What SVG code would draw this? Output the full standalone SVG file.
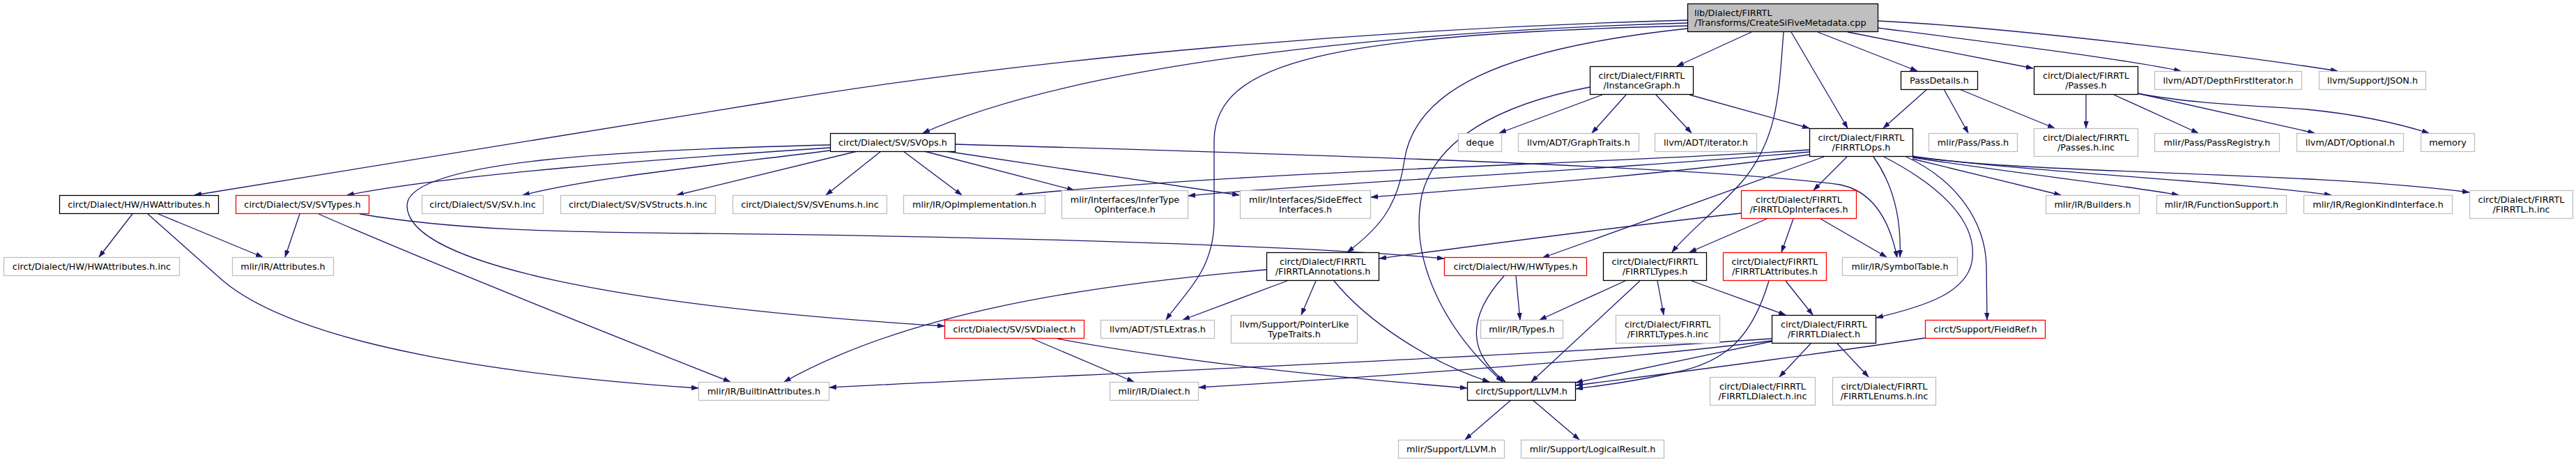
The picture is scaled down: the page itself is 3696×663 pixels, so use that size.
<svg xmlns="http://www.w3.org/2000/svg" width="3696" height="663" viewBox="0 0 3696 663">
<style>
text{font-family:"DejaVu Sans","Liberation Sans",sans-serif;font-size:12.8px;fill:#000;text-anchor:middle}
.node rect{fill:#fff;stroke-width:1.3}
.b rect{stroke:#000}
.g rect{stroke:#bfbfbf}
.r rect{stroke:#f00}
.root rect{fill:#bfbfbf;stroke:#000}
.root text{text-anchor:start}
#edges path{fill:none;stroke:#191970;stroke-width:1.3;marker-end:url(#arr)}
</style>
<defs>
<marker id="arr" viewBox="0 0 10 7" refX="10" refY="3.5" markerWidth="10" markerHeight="7" markerUnits="userSpaceOnUse" orient="auto">
<path d="M0,0 L10,3.5 L0,7 z" fill="#191970" stroke="#191970" stroke-width="0.5"/>
</marker>
</defs>
<rect width="3696" height="663" fill="#fff"/>
<g id="edges">
<path d="M2421,29 C2000,40 1500,80 1100,147 L279,280"/>
<path d="M2421,33 C2000,45 1550,90 1324,191"/>
<path d="M2421,37 C1900,50 1745,90 1742,200 L1742,320 C1740,390 1700,420 1673,459"/>
<path d="M2421,41 C2150,70 2030,130 2015,230 C2005,300 1975,330 1933,362"/>
<path d="M2513,46 L2406,95"/>
<path d="M2570,46 L2651,184"/>
<path d="M2559,46 C2552,140 2550,200 2500,260 C2460,305 2420,335 2399,362"/>
<path d="M2608,46 L2751,102"/>
<path d="M2651,46 C2700,56 2850,85 2917,98"/>
<path d="M2694,40 C2850,60 3050,85 3129,102"/>
<path d="M2694,30 C2900,40 3250,85 3354,102"/>
<path d="M2299,136 L2151,191"/>
<path d="M2333,136 L2284,191"/>
<path d="M2376,136 L2427,191"/>
<path d="M2424,136 L2596,184"/>
<path d="M2281,125 C2150,150 2060,200 2040,280 C2020,380 2080,480 2156,548"/>
<path d="M1191,212 C950,228 650,250 498,280"/>
<path d="M1191,216 C1000,240 850,255 750,280"/>
<path d="M1191,208 C900,215 584,230 584,295 C584,380 900,440 1355,468"/>
<path d="M1230,217 L971,280"/>
<path d="M1264,217 L1185,280"/>
<path d="M1296,217 L1380,280"/>
<path d="M1326,217 L1541,273"/>
<path d="M1357,217 L1778,280"/>
<path d="M1370,207 C1900,222 2450,240 2640,265 C2690,275 2712,320 2722,370"/>
<path d="M430,307 L409,369"/>
<path d="M457,307 C600,370 900,490 1048,548"/>
<path d="M516,307 C650,330 800,333 1000,335 C1500,340 1900,355 2072,371"/>
<path d="M190,307 L142,369"/>
<path d="M227,307 L377,369"/>
<path d="M212,307 L320,403 C400,470 600,530 1002,557"/>
<path d="M2596,215 C2300,235 1800,245 1457,280"/>
<path d="M2596,218 C2300,245 1900,262 1705,281"/>
<path d="M2596,222 C2400,250 2100,272 1967,283"/>
<path d="M2617,225 L2213,370"/>
<path d="M2650,225 L2602,273"/>
<path d="M2688,225 C2720,270 2728,320 2726,369"/>
<path d="M2703,225 C2790,270 2835,320 2830,370 C2826,420 2760,440 2692,456"/>
<path d="M2735,225 C2810,260 2848,320 2850,380 L2851,459"/>
<path d="M2744,228 L2957,280"/>
<path d="M2744,226 C2900,250 3050,266 3126,280"/>
<path d="M2744,225 C2950,250 3200,260 3345,280"/>
<path d="M2744,224 C2900,250 3300,245 3543,276"/>
<path d="M2765,128 L2702,184"/>
<path d="M2789,128 L2824,191"/>
<path d="M2811,128 L2948,184"/>
<path d="M2993,136 L2993,184"/>
<path d="M3033,136 L3154,191"/>
<path d="M3067,134 L3321,191"/>
<path d="M3067,134 C3150,150 3250,152 3310,157 C3390,165 3450,180 3485,191"/>
<path d="M2498,306 C2300,328 2100,355 1979,371"/>
<path d="M2535,314 L2424,362"/>
<path d="M2573,314 L2556,362"/>
<path d="M2612,314 L2707,369"/>
<path d="M2332,403 L2209,459"/>
<path d="M2353,403 L2197,548"/>
<path d="M2378,403 L2387,452"/>
<path d="M2427,403 L2562,452"/>
<path d="M2562,403 L2601,452"/>
<path d="M2538,403 C2515,480 2480,520 2400,535 C2340,548 2300,553 2261,558"/>
<path d="M2175,396 L2181,459"/>
<path d="M2158,396 C2100,460 2110,510 2160,548"/>
<path d="M1888,403 L1867,452"/>
<path d="M1914,403 C1960,460 2050,520 2137,548"/>
<path d="M1817,387 C1550,410 1300,450 1125,548"/>
<path d="M1847,403 L1697,459"/>
<path d="M2598,493 L2553,541"/>
<path d="M2636,493 L2681,541"/>
<path d="M2542,490 C2400,520 2300,540 2261,549"/>
<path d="M2542,486 C2200,510 1500,540 1190,556"/>
<path d="M2542,489 C2300,520 1900,545 1720,556"/>
<path d="M2762,485 C2600,510 2400,535 2261,553"/>
<path d="M1481,486 L1627,548"/>
<path d="M1517,486 C1700,520 1900,540 2105,557"/>
<path d="M2168,574 L2102,631"/>
<path d="M2199,574 L2266,631"/>
</g>
<g id="n_root" class="node root"><rect x="2421.5" y="5.5" width="273" height="40"/><text x="2431" y="23">lib/Dialect/FIRRTL</text><text x="2431" y="37">/Transforms/CreateSiFiveMetadata.cpp</text></g>
<g id="n_instancegraph" class="node b"><rect x="2281.5" y="95.5" width="148" height="40"/><text x="2355.5" y="113">circt/Dialect/FIRRTL</text><text x="2355.5" y="127">/InstanceGraph.h</text></g>
<g id="n_passdetails" class="node b"><rect x="2727.5" y="102.5" width="110" height="26"/><text x="2782.5" y="120">PassDetails.h</text></g>
<g id="n_passes" class="node b"><rect x="2918.5" y="95.5" width="149" height="40"/><text x="2993" y="113">circt/Dialect/FIRRTL</text><text x="2993" y="127">/Passes.h</text></g>
<g id="n_dfi" class="node g"><rect x="3091.5" y="102.5" width="211" height="26"/><text x="3197" y="120">llvm/ADT/DepthFirstIterator.h</text></g>
<g id="n_json" class="node g"><rect x="3327.5" y="102.5" width="153" height="26"/><text x="3404" y="120">llvm/Support/JSON.h</text></g>
<g id="n_svops" class="node b"><rect x="1191.5" y="191.5" width="179" height="26"/><text x="1281" y="209">circt/Dialect/SV/SVOps.h</text></g>
<g id="n_deque" class="node g"><rect x="2092.5" y="191.5" width="62" height="26"/><text x="2123.5" y="209">deque</text></g>
<g id="n_graphtraits" class="node g"><rect x="2178.5" y="191.5" width="173" height="26"/><text x="2265" y="209">llvm/ADT/GraphTraits.h</text></g>
<g id="n_iterator" class="node g"><rect x="2374.5" y="191.5" width="146" height="26"/><text x="2447.5" y="209">llvm/ADT/iterator.h</text></g>
<g id="n_firrtlops" class="node b"><rect x="2596.5" y="184.5" width="148" height="40"/><text x="2670.5" y="202">circt/Dialect/FIRRTL</text><text x="2670.5" y="216">/FIRRTLOps.h</text></g>
<g id="n_pass" class="node g"><rect x="2767.5" y="191.5" width="127" height="26"/><text x="2831" y="209">mlir/Pass/Pass.h</text></g>
<g id="n_passesinc" class="node g"><rect x="2918.5" y="184.5" width="149" height="40"/><text x="2993" y="202">circt/Dialect/FIRRTL</text><text x="2993" y="216">/Passes.h.inc</text></g>
<g id="n_passregistry" class="node g"><rect x="3091.5" y="191.5" width="179" height="26"/><text x="3181" y="209">mlir/Pass/PassRegistry.h</text></g>
<g id="n_optional" class="node g"><rect x="3295.5" y="191.5" width="153" height="26"/><text x="3372" y="209">llvm/ADT/Optional.h</text></g>
<g id="n_memory" class="node g"><rect x="3473.5" y="191.5" width="77" height="26"/><text x="3512" y="209">memory</text></g>
<g id="n_hwattributes" class="node b"><rect x="85.5" y="280.5" width="228" height="26"/><text x="199.5" y="298">circt/Dialect/HW/HWAttributes.h</text></g>
<g id="n_svtypes" class="node r"><rect x="338.5" y="280.5" width="191" height="26"/><text x="434" y="298">circt/Dialect/SV/SVTypes.h</text></g>
<g id="n_svhinc" class="node g"><rect x="605.5" y="280.5" width="174" height="26"/><text x="692.5" y="298">circt/Dialect/SV/SV.h.inc</text></g>
<g id="n_svstructs" class="node g"><rect x="804.5" y="280.5" width="222" height="26"/><text x="915.5" y="298">circt/Dialect/SV/SVStructs.h.inc</text></g>
<g id="n_svenums" class="node g"><rect x="1051.5" y="280.5" width="221" height="26"/><text x="1162" y="298">circt/Dialect/SV/SVEnums.h.inc</text></g>
<g id="n_opimpl" class="node g"><rect x="1296.5" y="280.5" width="203" height="26"/><text x="1398" y="298">mlir/IR/OpImplementation.h</text></g>
<g id="n_infertype" class="node g"><rect x="1523.5" y="273.5" width="181" height="40"/><text x="1614" y="291">mlir/Interfaces/InferType</text><text x="1614" y="305">OpInterface.h</text></g>
<g id="n_sideeffect" class="node g"><rect x="1779.5" y="273.5" width="187" height="40"/><text x="1873" y="291">mlir/Interfaces/SideEffect</text><text x="1873" y="305">Interfaces.h</text></g>
<g id="n_opinterfaces" class="node r"><rect x="2498.5" y="273.5" width="165" height="40"/><text x="2581" y="291">circt/Dialect/FIRRTL</text><text x="2581" y="305">/FIRRTLOpInterfaces.h</text></g>
<g id="n_builders" class="node g"><rect x="2935.5" y="280.5" width="134" height="26"/><text x="3002.5" y="298">mlir/IR/Builders.h</text></g>
<g id="n_funcsupport" class="node g"><rect x="3094.5" y="280.5" width="186" height="26"/><text x="3187.5" y="298">mlir/IR/FunctionSupport.h</text></g>
<g id="n_regionkind" class="node g"><rect x="3305.5" y="280.5" width="213" height="26"/><text x="3412" y="298">mlir/IR/RegionKindInterface.h</text></g>
<g id="n_firrtlhinc" class="node g"><rect x="3543.5" y="273.5" width="148" height="40"/><text x="3617.5" y="291">circt/Dialect/FIRRTL</text><text x="3617.5" y="305">/FIRRTL.h.inc</text></g>
<g id="n_hwattrinc" class="node g"><rect x="5.5" y="369.5" width="252" height="26"/><text x="131.5" y="387">circt/Dialect/HW/HWAttributes.h.inc</text></g>
<g id="n_attributes" class="node g"><rect x="333.5" y="369.5" width="145" height="26"/><text x="406" y="387">mlir/IR/Attributes.h</text></g>
<g id="n_annotations" class="node b"><rect x="1817.5" y="362.5" width="161" height="40"/><text x="1898" y="380">circt/Dialect/FIRRTL</text><text x="1898" y="394">/FIRRTLAnnotations.h</text></g>
<g id="n_hwtypes" class="node r"><rect x="2072.5" y="369.5" width="204" height="26"/><text x="2174.5" y="387">circt/Dialect/HW/HWTypes.h</text></g>
<g id="n_firrtltypes" class="node b"><rect x="2300.5" y="362.5" width="148" height="40"/><text x="2374.5" y="380">circt/Dialect/FIRRTL</text><text x="2374.5" y="394">/FIRRTLTypes.h</text></g>
<g id="n_firrtlattrs" class="node r"><rect x="2472.5" y="362.5" width="148" height="40"/><text x="2546.5" y="380">circt/Dialect/FIRRTL</text><text x="2546.5" y="394">/FIRRTLAttributes.h</text></g>
<g id="n_symboltable" class="node g"><rect x="2643.5" y="369.5" width="165" height="26"/><text x="2726" y="387">mlir/IR/SymbolTable.h</text></g>
<g id="n_svdialect" class="node r"><rect x="1355.5" y="459.5" width="200" height="26"/><text x="1455.5" y="477">circt/Dialect/SV/SVDialect.h</text></g>
<g id="n_stlextras" class="node g"><rect x="1579.5" y="459.5" width="163" height="26"/><text x="1661" y="477">llvm/ADT/STLExtras.h</text></g>
<g id="n_pointerlike" class="node g"><rect x="1766.5" y="452.5" width="181" height="40"/><text x="1857" y="470">llvm/Support/PointerLike</text><text x="1857" y="484">TypeTraits.h</text></g>
<g id="n_types" class="node g"><rect x="2124.5" y="459.5" width="118" height="26"/><text x="2183.5" y="477">mlir/IR/Types.h</text></g>
<g id="n_firrtltypesinc" class="node g"><rect x="2318.5" y="452.5" width="149" height="40"/><text x="2393" y="470">circt/Dialect/FIRRTL</text><text x="2393" y="484">/FIRRTLTypes.h.inc</text></g>
<g id="n_firrtldialect" class="node b"><rect x="2542.5" y="452.5" width="149" height="40"/><text x="2617" y="470">circt/Dialect/FIRRTL</text><text x="2617" y="484">/FIRRTLDialect.h</text></g>
<g id="n_fieldref" class="node r"><rect x="2762.5" y="459.5" width="172" height="26"/><text x="2848.5" y="477">circt/Support/FieldRef.h</text></g>
<g id="n_builtinattrs" class="node g"><rect x="1002.5" y="548.5" width="187" height="26"/><text x="1096" y="566">mlir/IR/BuiltinAttributes.h</text></g>
<g id="n_dialect" class="node g"><rect x="1592.5" y="548.5" width="127" height="26"/><text x="1656" y="566">mlir/IR/Dialect.h</text></g>
<g id="n_llvm" class="node b"><rect x="2105.5" y="548.5" width="155" height="26"/><text x="2183" y="566">circt/Support/LLVM.h</text></g>
<g id="n_dialectinc" class="node g"><rect x="2453.5" y="541.5" width="151" height="40"/><text x="2529" y="559">circt/Dialect/FIRRTL</text><text x="2529" y="573">/FIRRTLDialect.h.inc</text></g>
<g id="n_enumsinc" class="node g"><rect x="2629.5" y="541.5" width="148" height="40"/><text x="2703.5" y="559">circt/Dialect/FIRRTL</text><text x="2703.5" y="573">/FIRRTLEnums.h.inc</text></g>
<g id="n_mlirllvm" class="node g"><rect x="2006.5" y="631.5" width="152" height="26"/><text x="2082.5" y="649">mlir/Support/LLVM.h</text></g>
<g id="n_logicalresult" class="node g"><rect x="2182.5" y="631.5" width="205" height="26"/><text x="2285" y="649">mlir/Support/LogicalResult.h</text></g>
</svg>
